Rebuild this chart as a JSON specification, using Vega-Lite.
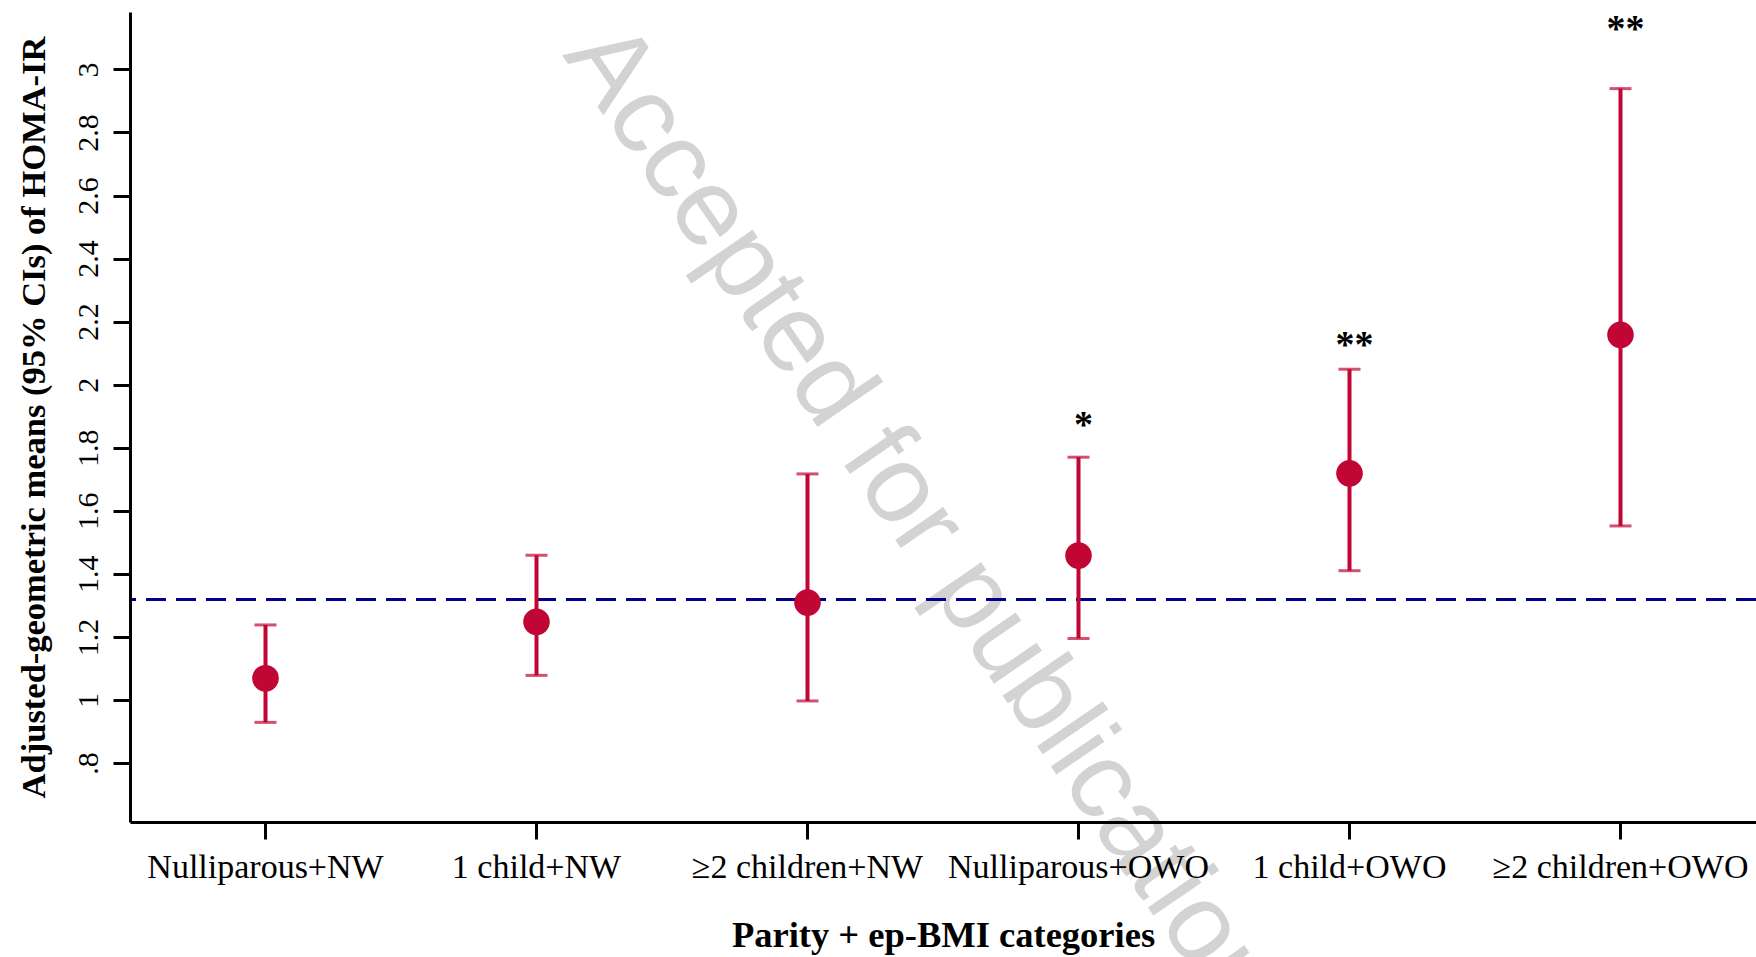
{
  "$schema": "https://vega.github.io/schema/vega-lite/v6.json",
  "autosize": "none",
  "width": 1626,
  "height": 810,
  "padding": {"left": 130, "top": 12, "right": 0, "bottom": 135},
  "background": "white",
  "config": {
    "view": {"stroke": null},
    "font": "Liberation Serif"
  },
  "data": {
    "values": [
      {"group": "Nulliparous+NW", "mean": 1.069, "lower": 0.929, "upper": 1.238, "sig": "", "sig_y": null},
      {"group": "1 child+NW", "mean": 1.248, "lower": 1.078, "upper": 1.459, "sig": "", "sig_y": null},
      {"group": "≥2 children+NW", "mean": 1.309, "lower": 0.997, "upper": 1.717, "sig": "", "sig_y": null},
      {"group": "Nulliparous+OWO", "mean": 1.458, "lower": 1.195, "upper": 1.770, "sig": "*", "sig_y": 1.885},
      {"group": "1 child+OWO", "mean": 1.719, "lower": 1.410, "upper": 2.049, "sig": "**", "sig_y": 2.137},
      {"group": "≥2 children+OWO", "mean": 2.158, "lower": 1.552, "upper": 2.939, "sig": "**", "sig_y": 3.141}
    ]
  },
  "encoding": {
    "x": {
      "field": "group",
      "type": "nominal",
      "scale": {
        "type": "band",
        "paddingInner": 0,
        "paddingOuter": 0,
        "domain": ["Nulliparous+NW", "1 child+NW", "≥2 children+NW", "Nulliparous+OWO", "1 child+OWO", "≥2 children+OWO"]
      },
      "axis": {
        "zindex": 1,
        "title": "Parity + ep-BMI categories",
        "titleFont": "Liberation Serif",
        "titleFontSize": 36.5,
        "titleFontWeight": "bold",
        "titleColor": "black",
        "titlePadding": 33,
        "labelFont": "Liberation Serif",
        "labelFontSize": 34,
        "labelColor": "black",
        "labelAngle": 0,
        "labelPadding": 11,
        "labelLimit": 0,
        "labelOverlap": false,
        "domainColor": "black",
        "domainWidth": 3,
        "tickColor": "black",
        "tickWidth": 3,
        "tickSize": 17,
        "grid": false
      }
    }
  },
  "layer": [
    {
      "data": {"values": [{"text": "Accepted for publication"}]},
      "mark": {"type": "text", "font": "Liberation Sans", "fontSize": 110, "color": "#d3d3d3", "angle": 55.5, "align": "left", "baseline": "alphabetic"},
      "encoding": {
        "x": {"datum": "1 child+NW", "bandPosition": 0.594},
        "y": {"datum": 3.046},
        "text": {"field": "text"}
      }
    },
    {
      "mark": {"type": "rule", "color": "#00008b", "strokeWidth": 3, "strokeDash": [20, 10]},
      "encoding": {"x": null, "y": {"datum": 1.319}}
    },
    {
      "mark": {"type": "rule", "color": "#c10534", "strokeWidth": 4},
      "encoding": {
        "y": {
          "field": "lower",
          "type": "quantitative",
          "scale": {"domain": [0.613, 3.182], "nice": false, "zero": false},
          "axis": {
            "zindex": 1,
            "title": "Adjusted-geometric means (95% CIs) of HOMA-IR",
            "titleFont": "Liberation Serif",
            "titleFontSize": 34.5,
            "titleFontWeight": "bold",
            "titleColor": "black",
            "titlePadding": 22,
            "values": [0.8, 1, 1.2, 1.4, 1.6, 1.8, 2, 2.2, 2.4, 2.6, 2.8, 3],
            "labelExpr": "datum.value < 1 ? substring(format(datum.value, '.1f'), 1) : format(datum.value, '~g')",
            "labelFont": "Liberation Serif",
            "labelFontSize": 30,
            "labelColor": "black",
            "labelAngle": 270,
            "labelAlign": "center",
            "labelBaseline": "alphabetic",
            "labelPadding": 16,
            "domainColor": "black",
            "domainWidth": 3,
            "tickColor": "black",
            "tickWidth": 3,
            "tickSize": 17,
            "grid": false
          }
        },
        "y2": {"field": "upper"}
      }
    },
    {
      "mark": {"type": "tick", "color": "#c10534", "thickness": 3, "size": 22, "orient": "horizontal"},
      "encoding": {"y": {"field": "lower", "type": "quantitative"}}
    },
    {
      "mark": {"type": "tick", "color": "#c10534", "thickness": 3, "size": 22, "orient": "horizontal"},
      "encoding": {"y": {"field": "upper", "type": "quantitative"}}
    },
    {
      "mark": {"type": "point", "shape": "circle", "filled": true, "opacity": 1, "color": "#c10534", "size": 707},
      "encoding": {"y": {"field": "mean", "type": "quantitative"}}
    },
    {
      "transform": [{"filter": "datum.sig != ''"}],
      "mark": {"type": "text", "font": "Liberation Serif", "fontSize": 38, "fontWeight": "bold", "color": "black", "baseline": "middle", "dx": 5, "dy": 5},
      "encoding": {
        "y": {"field": "sig_y", "type": "quantitative"},
        "text": {"field": "sig"}
      }
    }
  ]
}
